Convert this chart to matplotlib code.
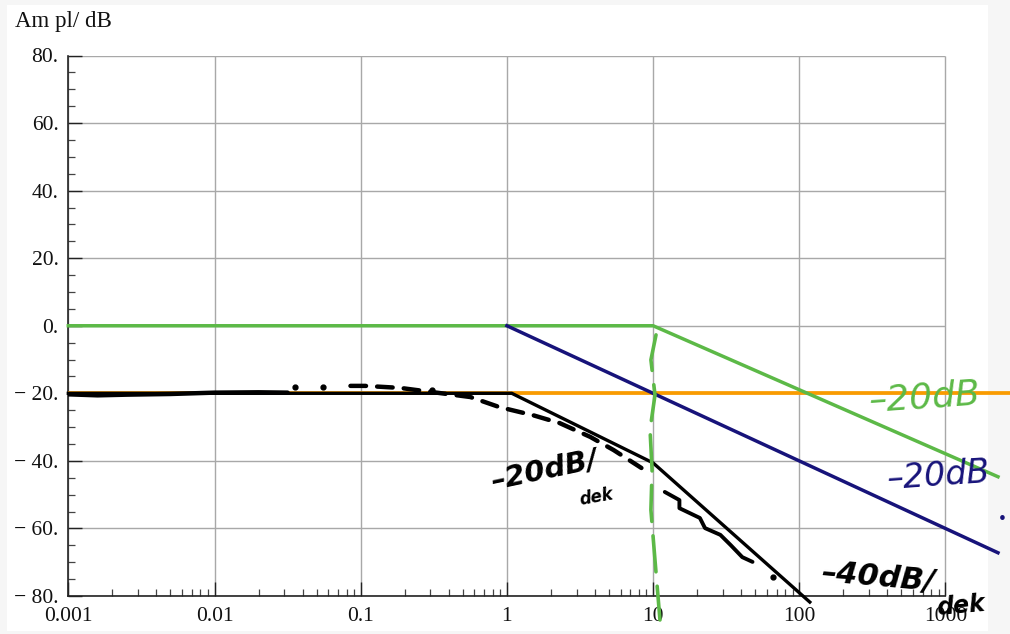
import numpy as np
import matplotlib
matplotlib.use("Agg")
import matplotlib.pyplot as plt
from matplotlib.patches import Rectangle

# ---------------- data ----------------
x_major = [1e-3, 1e-2, 1e-1, 1, 10, 100, 1000]
x_labels = ["0.001", "0.01", "0.1", "1", "10", "100", "1000"]
y_major = [-80, -60, -40, -20, 0, 20, 40, 60, 80]
y_labels = ["\u2212 80.", "\u2212 60.", "\u2212 40.", "\u2212 20.", "0.", "20.", "40.", "60.", "80."]

# asymptotic Bode magnitude lines (freq, dB)
green_f = [1e-3, 10, 2286]
green_db = [0, 0, -44.7]
navy_f = [1, 2285]
navy_db = [0, -67.2]
orange_f = [1e-3, 2760]
orange_db = [-20, -20]
black_f = [1e-3, 1.08, 10, 118]
black_db = [-20, -20, -40.6, -81.8]

# hand-drawn strokes (log10 freq, dB)
hand_flat_logf = [-3.0, -2.8, -2.6, -2.3, -2.0, -1.7, -1.5]
hand_flat_db = [-20.3, -20.6, -20.4, -20.2, -19.8, -19.7, -19.8]
hand_dash_logf = [-1.07, -0.97, -0.73, -0.41, -0.25, -0.05, 0.18, 0.36, 0.57, 0.73, 0.92]
hand_dash_db = [-17.8, -17.8, -18.4, -20.2, -21.1, -24.1, -26.5, -28.8, -32.9, -36.8, -42.1]
hand_dots_logf = [-1.45, -1.26, -0.51, 1.82]
hand_dots_db = [-18.2, -18.0, -18.9, -74.4]
hand_wavy_logf = [1.08, 1.18, 1.18, 1.32, 1.355, 1.46, 1.53, 1.61, 1.68]
hand_wavy_db = [-49.2, -51.6, -54.0, -56.9, -59.9, -61.9, -64.9, -68.5, -69.9]
hand_vert_logf = [1.02, 0.985, 1.013, 0.979, 0.993, 0.985, 1.013, 1.047]
hand_vert_db = [-2.7, -10.1, -20.5, -30.8, -42.7, -54.5, -69.4, -87.1]

# ---------------- style ----------------
W, H = 1010, 634
C_GREEN = "#5cb947"
C_NAVY = "#17137a"
C_ORANGE = "#f99b00"
C_BLACK = "#000000"
C_GRID = "#a8a8a8"

plt.rcParams["font.family"] = ["Liberation Serif", "DejaVu Serif"]

fig = plt.figure(figsize=(W / 100, H / 100), dpi=100, facecolor="#f6f6f6")
fig.add_artist(Rectangle((7 / W, 3 / H), (988 - 7) / W, (631 - 5) / H,
                         transform=fig.transFigure, facecolor="white",
                         edgecolor="none", zorder=0))

x0_px, dec_px = 68.3, 146.2
ytop_px, ybot_px = 55.5, 596.0
ax = fig.add_axes([x0_px / W, (H - ybot_px) / H, (W - x0_px) / W, (ybot_px - ytop_px) / H])
ax.patch.set_alpha(0)
ax.set_xscale("log")
ax.set_xlim(1e-3, 10 ** (-3 + (W - x0_px) / dec_px))
ax.set_ylim(-80, 80)

for s in ["top", "right"]:
    ax.spines[s].set_visible(False)
ax.spines["left"].set_bounds(-80, 80)
ax.spines["bottom"].set_bounds(1e-3, 1e3)
ax.spines["left"].set_color("#222222")
ax.spines["bottom"].set_color("#222222")
ax.spines["left"].set_linewidth(1.2)
ax.spines["bottom"].set_linewidth(1.2)

# grid
ax.hlines(y_major, 1e-3, 1e3, color=C_GRID, lw=1.0, zorder=1)
ax.vlines(x_major, -80, 80, color=C_GRID, lw=1.0, zorder=1)

# ticks
ax.set_xticks(x_major)
ax.set_xticklabels(x_labels)
minor_x = [m * 10.0 ** e for e in range(-3, 3) for m in range(2, 10)]
ax.set_xticks(minor_x, minor=True)
ax.set_yticks(y_major)
ax.set_yticklabels(y_labels)
ax.set_yticks([v for v in range(-80, 81, 5) if v % 20 != 0], minor=True)
ax.tick_params(axis="both", which="major", direction="in", length=10, width=1.0,
               color="#222222", labelsize=15.5, labelcolor="#111111")
ax.tick_params(axis="both", which="minor", direction="in", length=5, width=0.9,
               color="#444444")
ax.tick_params(axis="x", which="major", pad=8)
ax.tick_params(axis="y", which="major", pad=7)

# lines
ax.plot(orange_f, orange_db, color=C_ORANGE, lw=2.7, zorder=3, clip_on=False, solid_capstyle="butt")
ax.plot(green_f, green_db, color=C_GREEN, lw=2.5, zorder=4, clip_on=False)
ax.plot(navy_f, navy_db, color=C_NAVY, lw=2.5, zorder=4, clip_on=False)
ax.plot(black_f, black_db, color=C_BLACK, lw=2.4, zorder=5, clip_on=False)

# hand-drawn strokes
ax.plot(10 ** np.array(hand_flat_logf), hand_flat_db, color="black", lw=3.2,
        zorder=6, solid_capstyle="round")
ax.plot(10 ** np.array(hand_dash_logf), hand_dash_db, color="black", lw=3.2,
        zorder=6, linestyle=(0, (3.5, 2.5)), dash_capstyle="round")
ax.plot(10 ** np.array(hand_dots_logf), hand_dots_db, "o", color="black", ms=3.5, zorder=6)
ax.plot(10 ** np.array(hand_wavy_logf), hand_wavy_db, color="black", lw=2.8,
        zorder=6, solid_capstyle="round", solid_joinstyle="round")
ax.plot(10 ** np.array(hand_vert_logf), hand_vert_db, color=C_GREEN, lw=2.6,
        zorder=6, linestyle=(0, (10, 4)), dash_capstyle="round", clip_on=False)

# axis label
fig.text(15 / W, 1 - 22 / H, "Am pl/ dB", fontsize=16.5, ha="left", va="center", color="#111111")

# handwritten annotations
hand = dict(family=["DejaVu Sans"], fontweight="bold", fontstyle="oblique")
fig.text(488 / W, 1 - 470 / H, "\u201320dB/", fontsize=21, color="black",
         rotation=12, ha="left", va="center", **hand)
fig.text(578 / W, 1 - 497 / H, "dek", fontsize=12, color="black",
         rotation=10, ha="left", va="center", **hand)
fig.text(820 / W, 1 - 578 / H, "\u201340dB/", fontsize=22, color="black",
         rotation=-5, ha="left", va="center", **hand)
fig.text(935 / W, 1 - 606 / H, "dek", fontsize=17, color="black",
         rotation=5, ha="left", va="center", **hand)
fig.text(868 / W, 1 - 398 / H, "\u201320dB", fontsize=26, color=C_GREEN,
         rotation=4, ha="left", va="center", family=["DejaVu Sans"], fontstyle="oblique")
fig.text(886 / W, 1 - 476 / H, "\u201320dB", fontsize=24, color=C_NAVY,
         rotation=4, ha="left", va="center", family=["DejaVu Sans"],
         fontstyle="oblique")
fig.text(1002 / W, 1 - 520 / H, "\u2022", fontsize=14, color=C_NAVY, ha="center", va="center")

fig.savefig("out.png", dpi=100, facecolor=fig.get_facecolor())
